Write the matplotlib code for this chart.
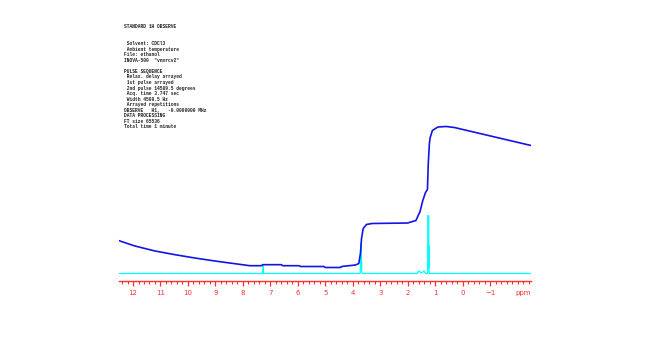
import matplotlib

matplotlib.use("Agg")
import matplotlib.pyplot as plt
from matplotlib.ticker import MultipleLocator

# acquisition parameters printed in the top-left corner ("" = blank line)
header_lines = [
    "STANDARD 1H OBSERVE",
    "",
    "",
    " Solvent: CDCl3",
    " Ambient temperature",
    "File: ethanol",
    "INOVA-500  \"vnmrcv2\"",
    "",
    "PULSE SEQUENCE",
    " Relax. delay arrayed",
    " 1st pulse arrayed",
    " 2nd pulse 14589.5 degrees",
    " Acq. time 3.747 sec",
    " Width 4500.5 Hz",
    " Arrayed repetitions",
    "OBSERVE   H1,   -0.0000000 MHz",
    "DATA PROCESSING",
    "FT size 65536",
    "Total time 1 minute",
]

# spectrum (cyan): chemical shift (ppm) and intensity above baseline
spec_ppm = [12.51, 7.275, 7.265, 7.26, 7.255, 7.245,
            3.73, 3.715, 3.705, 3.70, 3.695, 3.69, 3.685, 3.68, 3.675, 3.665, 3.65,
            1.66, 1.59, 1.50, 1.41, 1.34,
            1.275, 1.262, 1.255, 1.25, 1.245, 1.24, 1.235, 1.228, 1.215,
            -2.49]
spec_int = [0, 0, 4, 9, 4, 0,
            0, 12, 4, 30, 14, 30, 4, 12, 3, 1, 0,
            0, 2.5, 0.5, 2.5, 0,
            0, 28, 6, 58, 10, 58, 6, 28, 0,
            0]

# integral trace (blue)
integ_ppm = [12.51, 11.93, 11.2, 10.47, 9.75, 9.02, 8.29, 7.75, 7.32, 7.28,
             6.6, 6.55, 5.95, 5.9, 5.05, 5.0, 4.45, 4.4, 3.9, 3.78, 3.72,
             3.68, 3.62, 3.5, 3.3, 2.0, 1.7, 1.55, 1.45, 1.35,
             1.28, 1.25, 1.21, 1.18, 1.1, 0.9, 0.6, 0.3, -2.49]
integ_val = [32.8, 27.5, 22.5, 18.8, 15.5, 12.5, 9.8, 7.8, 7.8, 8.8,
             8.8, 7.8, 7.8, 7.0, 7.0, 6.0, 6.0, 7.0, 8.5, 10, 20,
             35, 45, 49, 50, 50.5, 53, 62, 73, 81,
             84, 110, 130, 136, 143, 146.5, 147, 146, 128]

fig = plt.figure(figsize=(6.5, 3.58), dpi=100)
ax = fig.add_axes([119 / 650, 1 - 281 / 358, 412 / 650, 261 / 358])

ax.plot(spec_ppm, spec_int, color="#00ffff", linewidth=0.9, zorder=2)
ax.plot(integ_ppm, integ_val, color="#1414e6", linewidth=1.2, zorder=3)

ax.set_xlim(12.51, -2.49)
ax.set_ylim(-7.5, 253.5)

for side in ("top", "left", "right"):
    ax.spines[side].set_visible(False)
ax.spines["bottom"].set_color("#ff3030")
ax.spines["bottom"].set_linewidth(1.0)
ax.set_yticks([])
ax.xaxis.set_major_locator(MultipleLocator(1))
ax.xaxis.set_minor_locator(MultipleLocator(0.2))
ax.set_xticks(range(-1, 13))
ax.tick_params(axis="x", which="major", direction="out", length=3.8, width=0.9,
               color="#ff3030", labelcolor="#ff3030", labelsize=5, pad=3)
ax.tick_params(axis="x", which="minor", direction="out", length=2, width=0.8,
               color="#ff3030")

ax.text(-2.2, -12 / 261, "ppm", transform=ax.get_xaxis_transform(),
        ha="center", va="center", fontsize=5, color="#ff3030")

y = 27
for line in header_lines:
    if line:
        fig.text(124 / 650, 1 - y / 358, line, ha="left", va="center",
                 fontsize=3.3, family="Liberation Mono", fontweight="bold",
                 color="#222222")
    y += 5.55

fig.savefig("out.png", dpi=100)
